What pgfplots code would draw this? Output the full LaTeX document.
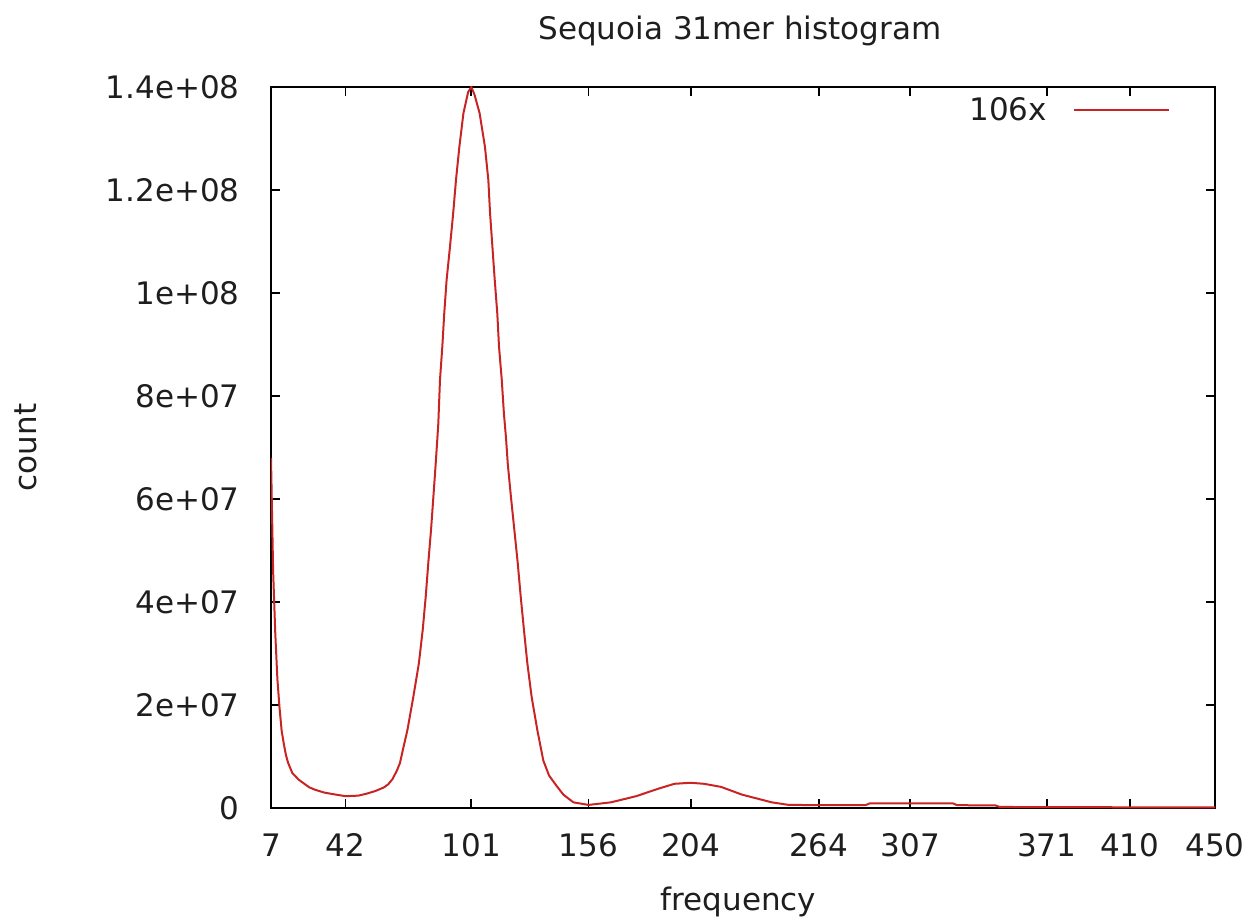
\documentclass[border=0pt]{standalone}
\usepackage{pgfplots}
\pgfplotsset{compat=1.18}
\usepackage{fontspec}
\setmainfont{DejaVu Sans}
\definecolor{gpred}{RGB}{200,36,36}
\definecolor{txt}{RGB}{30,30,30}
\begin{document}
\begin{tikzpicture}
\useasboundingbox (-135.5pt,-57pt) rectangle (490pt,404pt);
\begin{axis}[
  at={(0pt,0pt)}, anchor=south west,
  width=472pt, height=360.5pt, scale only axis,
  xmin=7, xmax=450, ymin=0, ymax=1.4e8,
  xtick={7,42,101,156,204,264,307,371,410,450},
  xticklabels={7,42,101,156,204,264,307,371,410,450},
  ytick={0,2e7,4e7,6e7,8e7,1e8,1.2e8,1.4e8},
  yticklabels={0,2e+07,4e+07,6e+07,8e+07,1e+08,1.2e+08,1.4e+08},
  scaled y ticks=false,
  tick align=inside, major tick length=4.5pt,
  tick pos=both,
  axis line style={line width=0.9pt, black},
  every tick/.style={black, line width=0.9pt},
  font=\fontsize{15.5pt}{18pt}\selectfont,
  yticklabel style={anchor=east, inner sep=0pt, xshift=-15.5pt, text=txt},
  xticklabel style={anchor=north, inner sep=0pt, yshift=-12.5pt, text=txt},
  title={Sequoia 31mer histogram},
  title style={at={(axis description cs:0.4968,1.0486)}, anchor=base, inner sep=0pt, text=txt},
  xlabel={frequency},
  xlabel style={at={(axis description cs:0.4953,-0.1415)}, anchor=base, inner sep=0pt, text=txt},
  ylabel={count},
  ylabel style={at={(axis description cs:-0.2479,0.5)}, anchor=base, inner sep=0pt, text=txt},
  legend plot pos=right,
  legend cell align=right,
  legend image code/.code={\draw[#1] (0pt,0pt) -- (47.5pt,0pt);},
  legend style={at={(axis description cs:1,1)}, anchor=north east, draw=none, fill=none,
    inner sep=0pt, outer sep=0pt, xshift=-22.5pt, yshift=-5pt,
    nodes={inner sep=0pt, text=txt}, column sep=13pt},
]
\addplot[gpred, line width=1pt] coordinates {
(7,68000000) (8,46000000) (9,34000000) (10,25000000) (11,19500000) (12,15000000)
(13,12500000) (14,10300000) (15,8800000) (17,6800000) (20,5500000) (22,4900000)
(25,4000000) (28,3500000) (32,3000000) (36,2700000) (42,2300000) (48,2400000)
(52,2800000) (56,3300000) (60,4000000) (62,4600000) (64,5600000) (66,7200000)
(67.5,8700000) (69,11500000) (71,15100000) (73.8,21600000) (76.4,28100000)
(78.2,34600000) (79.6,41000000) (80.8,47500000) (82.1,54000000) (83.2,60400000)
(84.3,66900000) (85.5,74500000) (86.3,83100000) (87.4,89600000) (88.3,96000000)
(89.4,102500000) (91,109000000) (92.5,115500000) (93.8,121900000) (95.4,128400000)
(97.3,134900000) (99.5,139000000) (101,140000000) (102.5,138500000)
(104.9,134900000) (107.4,128400000) (109,121900000) (109.8,115500000)
(110.9,109000000) (112,102500000) (113.2,96000000) (114,89600000) (115.3,83100000)
(116.3,76600000) (117.3,71800000) (118.1,66900000) (119.6,60400000)
(121.2,54000000) (122.8,47500000) (124.2,41000000) (125.7,34600000)
(127.3,28100000) (129.3,21600000) (132,15100000) (134.8,9200000) (137.5,6300000)
(141,4300000) (144.2,2600000) (148.9,1100000)
(156,600000) (166.5,1100000) (178.4,2300000) (188.4,3700000) (196.3,4700000)
(204,4900000) (210.2,4700000) (218.2,4100000) (228,2600000) (242,1100000)
(250,600000) (270,550000) (286,550000) (288,900000) (327,900000) (329,550000)
(347,500000) (349,200000) (380,180000) (420,120000) (450,100000)
};
\addlegendentry{106x}
\end{axis}
\end{tikzpicture}
\end{document}
